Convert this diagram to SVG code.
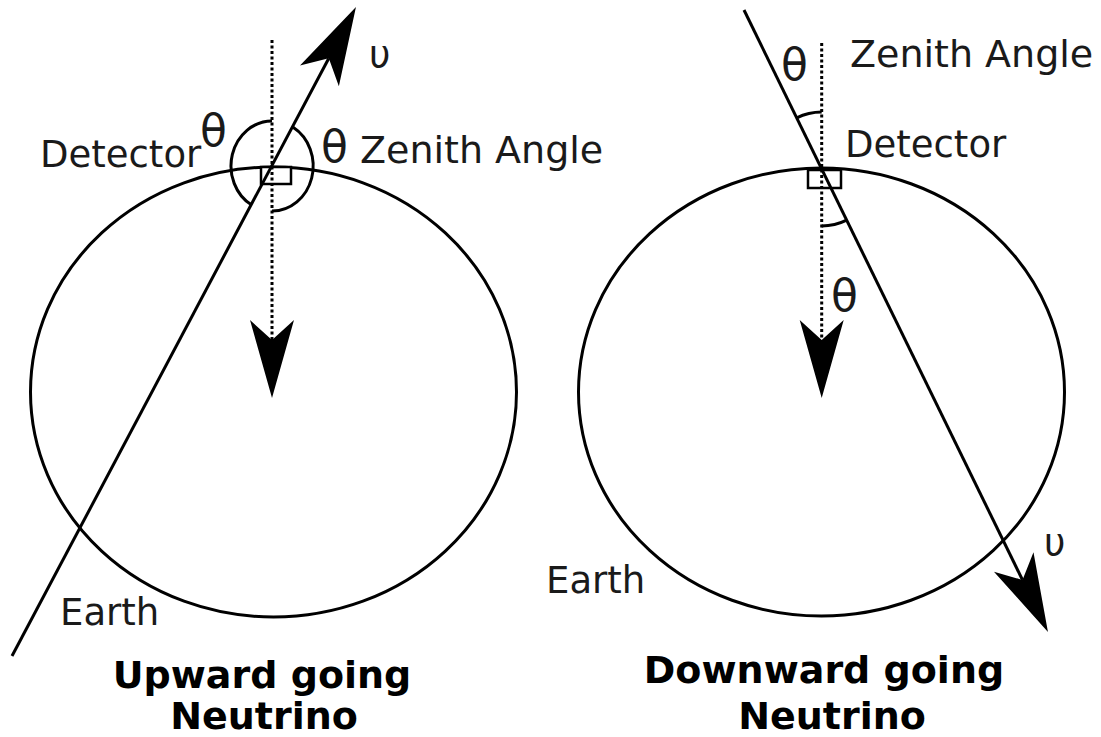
<svg xmlns="http://www.w3.org/2000/svg" width="1101" height="737" viewBox="0 0 1101 737">
<style>
  .earth { fill: none; stroke: #000; stroke-width: 3; }
  .nu { fill: none; stroke: #000; stroke-width: 3; marker-end: url(#head); }
  .zen { fill: none; stroke: #000; stroke-width: 3; stroke-dasharray: 3 2.5; marker-end: url(#head); }
  .arc { fill: none; stroke: #000; stroke-width: 3; }
  .det { fill: #fff; stroke: #000; stroke-width: 2.5; }
  .lbl { font-family: "DejaVu Sans", "Liberation Sans", sans-serif; font-size: 37px; fill: #1a1a1a; }
  .sym { font-family: "DejaVu Sans", "Liberation Sans", sans-serif; font-size: 44px; fill: #1a1a1a; }
  .title { font-family: "DejaVu Sans", "Liberation Sans", sans-serif; font-size: 38px; font-weight: bold; fill: #000; text-anchor: middle; }
</style>
<defs>
  <marker id="head" viewBox="0 -23 80 46" markerWidth="80" markerHeight="46" refX="20" refY="0" orient="auto" markerUnits="userSpaceOnUse" overflow="visible">
    <path d="M78,0 L0,-22 L20,0 L0,22 Z" fill="#000"/>
  </marker>
</defs>

<g id="earth-left">
  <ellipse class="earth" cx="273.5" cy="392" rx="243" ry="225"/>
  <text class="lbl" x="60" y="625">Earth</text>
</g>
<g id="earth-right">
  <ellipse class="earth" cx="821.5" cy="392" rx="243" ry="224"/>
  <text class="lbl" x="546" y="593">Earth</text>
</g>

<g id="detector-left">
  <rect class="det" x="261" y="167" width="30" height="17"/>
  <text class="lbl" x="40" y="167">Detector</text>
</g>
<g id="detector-right">
  <rect class="det" x="808" y="170" width="33" height="18"/>
  <text class="lbl" x="845" y="157">Detector</text>
</g>

<g id="connectors">
  <line class="zen" x1="272" y1="40" x2="272" y2="340"/>
  <line class="nu" x1="12" y1="656" x2="328.8" y2="58.2"/>
  <line class="zen" x1="821.7" y1="43" x2="821.7" y2="340"/>
  <line class="nu" x1="744" y1="10" x2="1022.5" y2="580"/>
</g>

<g id="angle-left">
  <path class="arc" d="M272,121 A41,45 0 0 0 251.7,205.1"/>
  <path class="arc" d="M293.1,127.3 A41,45 0 0 1 272,211"/>
  <text class="sym" x="200" y="146">θ</text>
  <text class="sym" x="321" y="162">θ</text>
  <text class="lbl" x="360" y="163" style="font-size:38px">Zenith Angle</text>
  <text class="lbl" x="369" y="67">υ</text>
</g>

<g id="angle-right">
  <path class="arc" d="M796.7,117.8 A57,57 0 0 1 821.7,112"/>
  <path class="arc" d="M821.7,226 A57,57 0 0 0 846.7,220.2"/>
  <text class="sym" x="781" y="80">θ</text>
  <text class="sym" x="831" y="311">θ</text>
  <text class="lbl" x="850" y="67" style="font-size:38px">Zenith Angle</text>
  <text class="lbl" x="1044" y="555">υ</text>
</g>

<g id="title-left">
  <text class="title" x="262" y="688">Upward going</text>
  <text class="title" x="264" y="729">Neutrino</text>
</g>
<g id="title-right">
  <text class="title" x="824" y="683">Downward going</text>
  <text class="title" x="832" y="729">Neutrino</text>
</g>
</svg>
